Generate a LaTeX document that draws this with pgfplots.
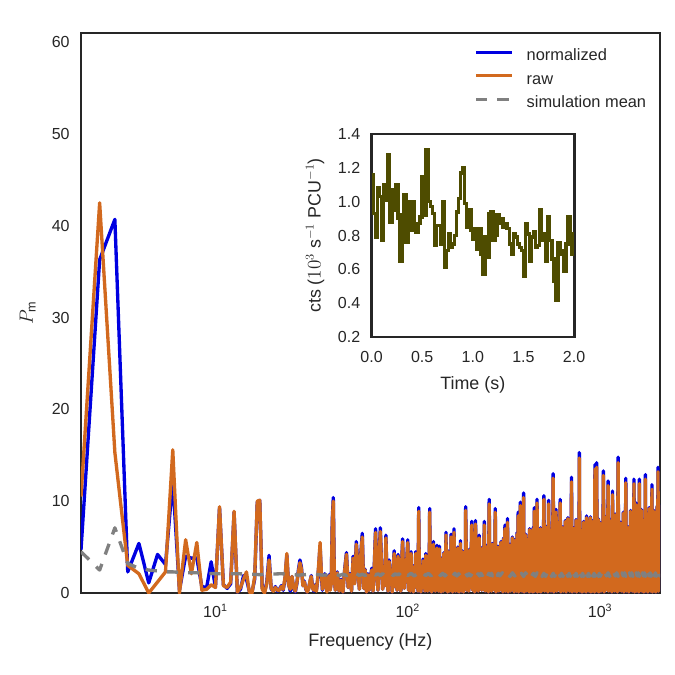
\documentclass[border=0pt]{standalone}
\usepackage{fontspec}
\setmainfont{Liberation Sans}
\usepackage{pgfplots}
\usepackage{pgfplotstable}
\pgfplotsset{compat=1.18}
\definecolor{cblue}{RGB}{0,0,225}
\definecolor{corange}{RGB}{210,105,30}
\definecolor{cgray}{RGB}{128,128,128}
\definecolor{colive}{RGB}{78,76,0}
\definecolor{ctext}{RGB}{38,38,38}

\pgfplotstableread{
f n r
2.0 4.7 10.5
2.5 36.3 42.5
3.0 40.7 15.3
3.5 2.3 3.0
4.0 5.4 2.1
4.5 1.1 0.0
5.0 4.2 1.2
5.5 3.1 2.3
6.0 12.3 15.6
6.5 0.3 0.0
7.0 4.0 5.8
7.5 3.8 2.1
8.0 3.8 5.5
8.5 0.7 0.3
9.0 0.6 0.4
9.5 3.4 0.9
10.0 0.6 0.6
10.5 9.3 9.4
11.0 0.9 0.8
11.5 0.5 0.6
12.0 1.0 1.2
12.5 8.8 8.9
13.0 0.1 0.1
13.5 0.4 0.6
14.0 1.9 1.5
14.5 1.5 2.3
15.0 0.2 0.1
15.5 0.1 0.0
16.0 1.5 1.8
16.5 9.9 10.0
17.0 10.1 10.1
17.5 0.6 0.4
18.0 0.1 0.0
18.5 1.2 1.0
19.0 4.1 3.6
19.5 0.4 0.5
20.0 0.3 0.2
20.5 0.7 0.6
21.0 0.2 0.3
21.5 0.4 0.3
22.0 0.8 0.7
22.5 0.3 0.4
23.0 1.5 1.7
23.5 4.1 4.3
24.0 1.0 0.9
24.5 0.2 0.4
25.0 1.8 1.8
25.5 0.5 0.6
26.0 0.1 0.2
26.5 1.0 1.1
27.0 2.5 2.3
27.5 3.6 3.3
28.0 2.8 2.6
28.5 0.8 0.8
29.0 1.3 1.2
29.5 0.4 0.5
30.0 0.1 0.1
30.5 0.5 0.4
31.0 1.2 1.3
31.5 1.9 1.8
32.0 0.6 0.5
32.5 0.2 0.3
33.0 0.9 0.8
33.5 0.3 0.2
34.0 1.4 1.6
34.5 3.1 3.4
35.0 5.2 5.5
35.5 2.2 2.4
36.0 0.3 0.4
36.5 1.4 1.3
37.0 2.1 1.9
37.5 1.0 0.9
38.0 0.2 0.1
38.5 1.6 1.5
39.0 2.0 1.9
39.5 0.4 0.3
40.0 1.2 1.0
40.5 8.0 7.6
41.0 10.4 10.0
41.5 2.0 1.8
42 0.3 0.3
43 2.3 2.2
44 0.2 0.2
45 1.5 1.4
46 0.1 0.1
47 2.6 2.5
48 4.4 4.2
49 0.6 0.6
50 2.1 2.0
51 0.2 0.2
52 4.0 3.8
53 1.1 1.0
54 5.6 5.3
55 3.2 3.0
56 0.4 0.4
57 4.4 4.2
58 6.5 6.1
59 0.5 0.5
60 2.6 2.5
61 0.1 0.1
62 2.1 2.0
63 0.3 0.3
64 1.8 1.7
65 2.7 2.5
66 0.2 0.2
67 3.1 3.0
68 7.0 6.6
69 2.2 2.1
70 0.3 0.3
71 4.2 4.0
72 7.1 6.7
73 3.3 3.2
74 0.4 0.4
75 3.0 2.9
76 0.8 0.8
77 6.3 6.0
78 1.4 1.3
79 0.2 0.2
80 3.6 3.4
81 0.9 0.9
82 2.3 2.2
83 0.1 0.1
84 2.9 2.8
85 4.6 4.3
86 0.7 0.7
87 3.2 3.1
88 0.3 0.3
89 4.2 4.0
90 1.1 1.1
91 2.5 2.4
92 0.2 0.2
93 3.4 3.3
94 5.9 5.6
95 2.0 1.9
96 0.5 0.5
97 3.7 3.6
98 1.2 1.2
99 4.0 3.9
100 5.8 5.5
101 0.3 0.3
102 2.6 2.5
103 0.2 0.2
104 4.5 4.3
105 0.5 0.5
106 2.2 2.1
107 0.1 0.1
108 3.0 2.9
109 0.6 0.6
110 4.5 4.3
111 0.9 0.9
112 1.9 1.9
113 0.2 0.2
114 9.3 8.9
115 0.4 0.4
116 2.8 2.7
117 0.1 0.1
118 2.6 2.5
119 0.5 0.5
120 3.7 3.5
121 1.0 1.0
122 2.3 2.2
123 0.2 0.2
124 4.3 4.1
125 0.3 0.3
126 2.0 2.0
127 0.2 0.2
128 3.1 3.0
129 0.7 0.7
130 9.2 8.8
131 0.3 0.3
132 2.5 2.4
133 0.1 0.1
134 3.3 3.2
135 0.8 0.8
136 5.6 5.3
137 0.4 0.4
138 2.1 2.0
139 0.2 0.2
140 4.0 3.9
141 0.6 0.6
142 5.2 4.9
143 0.3 0.3
144 2.9 2.8
145 0.2 0.2
146 5.1 4.8
147 0.9 0.9
148 2.4 2.3
149 0.1 0.1
150 3.8 3.7
151 0.5 0.5
152 2.6 2.5
153 0.2 0.2
154 4.4 4.3
155 0.7 0.7
156 2.2 2.1
157 0.3 0.3
158 6.6 6.3
159 0.4 0.4
160 2.2 2.1
161 0.1 0.1
162 4.6 4.5
163 1.1 1.1
164 2.7 2.6
165 0.2 0.2
166 3.9 3.8
167 0.5 0.5
168 6.4 6.1
169 0.3 0.3
170 2.5 2.4
171 0.1 0.1
172 4.8 4.7
173 0.8 0.8
174 7.0 6.6
175 0.4 0.4
176 3.0 2.9
177 0.2 0.2
178 4.2 4.1
179 0.6 0.6
180 2.0 2.0
181 0.2 0.2
182 5.0 4.9
183 0.9 0.9
184 2.6 2.5
185 0.1 0.1
186 4.4 4.3
187 0.5 0.5
188 5.7 5.4
189 0.3 0.3
190 2.8 2.7
191 0.2 0.2
192 4.6 4.5
193 0.8 0.8
194 2.4 2.3
195 0.1 0.1
196 3.9 3.8
197 0.4 0.4
198 2.4 2.4
199 0.6 0.6
200 9.4 9.0
202.5 0.3 0.3
205 2.5 2.5
207.5 0.2 0.2
210 4.8 4.7
212.5 0.6 0.6
215 7.8 7.4
217.5 0.3 0.3
220 2.9 2.8
222.5 0.1 0.1
225 7.9 7.5
227.5 0.5 0.5
230 3.1 3.0
232.5 0.2 0.2
235 6.3 6.0
237.5 0.7 0.7
240 2.6 2.5
242.5 0.3 0.3
245 5.0 4.9
247.5 0.9 0.9
250 7.8 7.4
252.5 0.2 0.2
255 3.3 3.2
257.5 0.4 0.4
260 5.2 5.1
262.5 0.1 0.1
265 10.2 9.7
267.5 0.6 0.6
270 3.2 3.1
272.5 0.2 0.2
275 5.4 5.3
277.5 0.8 0.8
280 3.0 2.9
282.5 0.3 0.3
285 9.2 8.8
287.5 0.1 0.1
290 3.4 3.3
292.5 0.5 0.5
295 5.1 5.0
297.5 0.2 0.2
300 3.5 3.4
302.5 0.7 0.7
305 5.6 5.5
307.5 0.3 0.3
310 3.6 3.5
312.5 0.1 0.1
315 6.0 5.9
317.5 0.9 0.9
320 7.4 7.0
322.5 0.2 0.2
325 3.8 3.7
327.5 0.4 0.4
330 8.1 7.7
332.5 0.1 0.1
335 3.4 3.3
337.5 0.6 0.6
340 5.3 5.2
342.5 0.2 0.2
345 4.0 3.9
347.5 0.5 0.5
350 6.1 6.0
352.5 0.3 0.3
355 3.6 3.5
357.5 0.1 0.1
360 5.8 5.7
362.5 0.8 0.8
365 3.9 3.8
367.5 0.2 0.2
370 6.6 6.4
372.5 0.4 0.4
375 8.8 8.4
377.5 0.1 0.1
380 4.2 4.1
382.5 0.6 0.6
385 9.9 9.5
387.5 0.3 0.3
390 3.7 3.6
392.5 0.2 0.2
395 6.2 6.1
397.5 0.9 0.9
400 10.9 10.4
402.5 0.1 0.1
405 4.1 4.0
407.5 0.5 0.5
410 6.4 6.3
412.5 0.2 0.2
415 4.3 4.2
417.5 0.7 0.7
420 5.9 5.8
422.5 0.3 0.3
425 4.0 3.9
427.5 0.1 0.1
430 7.0 6.9
432.5 0.6 0.6
435 4.4 4.3
437.5 0.2 0.2
440 6.5 6.4
442.5 0.4 0.4
445 4.6 4.5
447.5 0.1 0.1
450 7.2 7.0
452.5 0.8 0.8
455 9.3 8.9
457.5 0.2 0.2
460 4.2 4.1
462.5 0.5 0.5
465 6.8 6.7
467.5 0.3 0.3
470 10.2 9.8
472.5 0.1 0.1
475 4.5 4.4
477.5 0.6 0.6
480 6.4 6.3
482.5 0.2 0.2
485 4.8 4.7
487.5 0.4 0.4
490 7.1 7.0
492.5 0.1 0.1
495 4.3 4.2
497.5 0.7 0.7
500 6.9 6.8
505 0.3 0.3
510 10.6 10.2
515 0.2 0.2
520 4.6 4.5
525 0.5 0.5
530 7.3 7.2
535 0.1 0.1
540 10.1 9.7
545 0.6 0.6
550 4.4 4.3
555 0.2 0.2
560 7.0 6.9
565 0.4 0.4
570 13.0 12.5
575 0.1 0.1
580 4.9 4.8
585 0.7 0.7
590 9.1 8.8
595 0.2 0.2
600 4.7 4.6
605 0.5 0.5
610 7.8 7.7
615 0.3 0.3
620 10.2 9.8
625 0.1 0.1
630 5.0 4.9
635 0.8 0.8
640 7.2 7.1
645 0.2 0.2
650 4.8 4.7
655 0.4 0.4
660 7.9 7.8
665 0.1 0.1
670 5.2 5.1
675 0.6 0.6
680 8.2 8.1
685 0.3 0.3
690 4.9 4.8
695 0.2 0.2
700 7.5 7.4
705 0.5 0.5
710 12.6 12.1
715 0.1 0.1
720 5.3 5.2
725 0.7 0.7
730 7.1 7.0
735 0.2 0.2
740 5.5 5.4
745 0.4 0.4
750 8.0 7.9
755 0.1 0.1
760 5.1 5.0
765 0.6 0.6
770 7.6 7.5
775 0.3 0.3
780 15.3 14.7
785 0.2 0.2
790 5.4 5.3
795 0.8 0.8
800 6.9 6.8
805 0.1 0.1
810 5.2 5.1
815 0.4 0.4
820 7.8 7.7
825 0.2 0.2
830 5.7 5.6
835 0.5 0.5
840 7.3 7.2
845 0.1 0.1
850 8.4 8.2
855 0.6 0.6
860 5.5 5.4
865 0.3 0.3
870 7.9 7.8
875 0.2 0.2
880 5.8 5.7
885 0.7 0.7
890 8.3 8.2
895 0.1 0.1
900 5.4 5.3
905 0.4 0.4
910 7.2 7.1
915 0.2 0.2
920 5.9 5.8
925 0.5 0.5
930 8.0 7.9
935 0.1 0.1
940 14.0 13.5
945 0.6 0.6
950 5.6 5.5
955 0.3 0.3
960 14.2 13.7
965 0.2 0.2
970 6.0 5.9
975 0.8 0.8
980 8.1 8.0
985 0.1 0.1
990 5.7 5.6
995 0.4 0.4
1000 7.7 7.6
1010 0.2 0.2
1020 6.1 6.0
1030 0.5 0.5
1040 13.3 12.8
1050 0.1 0.1
1060 5.8 5.7
1070 0.6 0.6
1080 8.4 8.3
1090 0.3 0.3
1100 12.2 11.7
1110 0.2 0.2
1120 6.2 6.1
1130 0.7 0.7
1140 8.0 7.9
1150 0.1 0.1
1160 11.1 10.7
1170 0.4 0.4
1180 5.9 5.8
1190 0.2 0.2
1200 8.6 8.5
1210 0.5 0.5
1220 6.4 6.3
1230 0.1 0.1
1240 14.8 14.2
1250 0.6 0.6
1260 6.0 5.9
1270 0.3 0.3
1280 7.7 7.6
1290 0.2 0.2
1300 6.5 6.4
1310 0.8 0.8
1320 8.8 8.7
1330 0.1 0.1
1340 6.1 6.0
1350 0.4 0.4
1360 12.5 12.0
1370 0.2 0.2
1380 6.6 6.5
1390 0.5 0.5
1400 7.2 7.1
1410 0.1 0.1
1420 6.8 6.7
1430 0.6 0.6
1440 9.0 8.9
1450 0.3 0.3
1460 6.3 6.2
1470 0.2 0.2
1480 8.3 8.2
1490 0.7 0.7
1500 12.4 11.9
1510 0.1 0.1
1520 6.7 6.6
1530 0.4 0.4
1540 9.8 9.6
1550 0.2 0.2
1560 6.4 6.3
1570 0.5 0.5
1580 8.5 8.4
1590 0.1 0.1
1600 12.4 11.9
1610 0.6 0.6
1620 6.2 6.1
1630 0.3 0.3
1640 9.1 9.0
1650 0.2 0.2
1660 6.9 6.8
1670 0.8 0.8
1680 8.0 7.9
1690 0.1 0.1
1700 6.6 6.5
1710 0.4 0.4
1720 12.9 12.4
1730 0.2 0.2
1740 7.0 6.9
1750 0.5 0.5
1760 8.7 8.6
1770 0.1 0.1
1780 6.5 6.4
1790 0.6 0.6
1800 9.3 9.2
1810 0.3 0.3
1820 7.1 7.0
1830 0.2 0.2
1840 8.4 8.3
1850 0.7 0.7
1860 11.8 11.3
1870 0.1 0.1
1880 6.8 6.7
1890 0.4 0.4
1900 9.0 8.9
1910 0.2 0.2
1920 7.2 7.1
1930 0.5 0.5
1940 8.2 8.1
1950 0.1 0.1
1960 6.9 6.8
1970 0.6 0.6
1980 9.5 9.4
1990 0.3 0.3
2000 13.7 13.2
2010 0.2 0.2
2020 7.0 6.9
2030 0.5 0.5
2040 9.7 9.6
}\spec

\pgfplotstableread{
f s
2.0 4.5
2.5 2.5
3.0 7.1
3.5 3.2
4.0 2.7
4.5 2.5
5.0 2.4
5.5 2.3
6.0 2.3
7.0 2.2
8.0 2.2
10 2.1
13 2.1
17 2.0
22 2.1
27 1.95
32 2.05
36 1.95
40 2.0
42 2.1
44 1.9
46 2.05
48 1.9
50 2.1
52 1.95
54 2.1
56 1.9
58 2.05
60 1.9
62 2.1
64 1.9
66 2.1
68 1.95
70 2.1
72 1.9
74 2.1
76 1.9
78 2.05
80 1.9
82 2.1
84 1.9
86 2.1
88 1.95
90 2.1
92 1.9
94 2.1
96 1.9
98 2.1
100 1.9
104 2.15
108 1.85
112 2.1
116 1.85
120 2.15
124 1.9
128 2.15
132 1.85
136 2.1
140 1.85
144 2.15
148 1.9
152 2.15
156 1.85
160 2.1
164 1.85
168 2.15
172 1.9
176 2.15
180 1.85
184 2.1
188 1.85
192 2.15
196 1.9
200 2.15
204 1.85
208 2.1
212 1.85
216 2.15
220 1.9
224 2.15
228 1.85
232 2.1
236 1.85
240 2.15
244 1.9
248 2.15
252 1.85
256 2.1
260 1.85
264 2.15
268 1.9
272 2.15
276 1.85
280 2.1
284 1.85
288 2.15
292 1.9
296 2.15
300 1.85
310 2.2
320 1.8
330 2.15
340 1.8
350 2.2
360 1.85
370 2.2
380 1.8
390 2.15
400 1.8
410 2.2
420 1.85
430 2.2
440 1.8
450 2.15
460 1.8
470 2.2
480 1.85
490 2.2
500 1.8
510 2.15
520 1.8
530 2.2
540 1.85
550 2.2
560 1.8
570 2.15
580 1.8
590 2.2
600 1.85
610 2.2
620 1.8
630 2.15
640 1.8
650 2.2
660 1.85
670 2.2
680 1.8
690 2.15
700 1.8
710 2.2
720 1.85
730 2.2
740 1.8
750 2.15
760 1.8
770 2.2
780 1.85
790 2.2
800 1.8
810 2.15
820 1.8
830 2.2
840 1.85
850 2.2
860 1.8
870 2.15
880 1.8
890 2.2
900 1.85
910 2.2
920 1.8
930 2.15
940 1.8
950 2.2
960 1.85
970 2.2
980 1.8
990 2.15
1000 1.8
1020 2.2
1040 1.8
1060 2.2
1080 1.85
1100 2.2
1120 1.8
1140 2.15
1160 1.8
1180 2.2
1200 1.85
1220 2.2
1240 1.8
1260 2.15
1280 1.8
1300 2.2
1320 1.85
1340 2.2
1360 1.8
1380 2.15
1400 1.8
1420 2.2
1440 1.85
1460 2.2
1480 1.8
1500 2.15
1520 1.8
1540 2.2
1560 1.85
1580 2.2
1600 1.8
1620 2.15
1640 1.8
1660 2.2
1680 1.85
1700 2.2
1720 1.8
1740 2.15
1760 1.8
1780 2.2
1800 1.85
1820 2.2
1840 1.8
1860 2.15
1880 1.8
1900 2.2
1920 1.85
1940 2.2
1960 1.8
1980 2.15
2000 1.8
2020 2.2
2040 1.85
2048 2.0
}\simmean

\begin{document}
\begin{tikzpicture}
\useasboundingbox (-60.75pt,-61.5pt) rectangle (445.5pt,444.75pt);
\begin{axis}[
  at={(0,0)}, anchor=south west,
  scale only axis, width=434.25pt, height=420pt,
  xmode=log, xmin=2, xmax=2048, ymin=0, ymax=61,
  xtick={10,100,1000},
  xticklabels={10\textsuperscript{1},10\textsuperscript{2},10\textsuperscript{3}},
  ytick={0,10,20,30,40,50,60},
  tick style={draw=none},
  axis line style={line width=2.2pt, draw=ctext},
  /pgf/number format/assume math mode=true,
  tick label style={font=\fontsize{12}{14}\selectfont, text=ctext},
  yticklabel style={xshift=-5pt},
  xticklabel style={yshift=-5pt},
  xlabel={Frequency (Hz)},
  ylabel={$P_{\mathrm{m}}$},
  label style={font=\fontsize{13.5}{16}\selectfont, text=ctext},
  xlabel style={at={(axis description cs:0.5,-0.0874)}, anchor=center},
  ylabel style={at={(axis description cs:-0.092,0.5)}, anchor=center},
  legend style={at={(axis description cs:0.679,0.972)}, anchor=north west,
    draw=none, fill=none, inner sep=0pt, row sep=5.6pt,
    font=\fontsize{12.3}{14}\selectfont, text=ctext,
    nodes={inner sep=0pt, text height=9pt, text depth=3pt}},
  legend cell align=left,
  legend image code/.code={\draw[#1] (0pt,3.5pt) -- (27pt,3.5pt); \path (36.75pt,3.5pt);},
]
\addplot[cblue, line width=2.5pt, line join=round] table[x=f, y=n] {\spec};
\addlegendentry{normalized}
\addplot[corange, line width=2.5pt, line join=round] table[x=f, y=r] {\spec};
\addlegendentry{raw}
\addplot[cgray, line width=2.5pt, dash pattern=on 8.5pt off 7.5pt, line join=round] table[x=f, y=s] {\simmean};
\addlegendentry{simulation mean}
\end{axis}

\begin{axis}[
  at={(217.9pt,192pt)}, anchor=south west,
  scale only axis, width=151.9pt, height=152.25pt,
  xmin=0, xmax=2, ymin=0.2, ymax=1.4,
  xtick={0,0.5,1,1.5,2}, xticklabels={0.0,0.5,1.0,1.5,2.0},
  ytick={0.2,0.4,0.6,0.8,1.0,1.2,1.4}, yticklabels={0.2,0.4,0.6,0.8,1.0,1.2,1.4},
  tick style={draw=none},
  axis line style={line width=2.2pt, draw=ctext},
  axis background/.style={fill=white},
  tick label style={font=\fontsize{12}{14}\selectfont, text=ctext},
  yticklabel style={xshift=-5pt},
  xticklabel style={yshift=-7.5pt},
  xlabel={Time (s)},
  ylabel={cts ($10^3$ s$^{-1}$ PCU$^{-1}$)},
  label style={font=\fontsize{13.4}{16}\selectfont, text=ctext},
  xlabel style={at={(axis description cs:0.5,-0.237)}, anchor=center},
  ylabel style={at={(axis description cs:-0.279,0.5)}, anchor=center},
]
\addplot[const plot, colive, line width=2.6pt] coordinates {
(0.00,1.16) (0.02,0.93) (0.04,0.79) (0.06,1.08) (0.08,1.03) (0.10,0.77)
(0.12,1.10) (0.14,1.01) (0.16,1.28) (0.18,0.88) (0.20,1.07) (0.22,0.95)
(0.24,1.10) (0.26,0.90) (0.28,0.65) (0.30,0.92) (0.32,1.04) (0.34,0.76)
(0.36,1.00) (0.38,0.83) (0.40,1.00) (0.42,0.85) (0.44,0.82) (0.46,0.87)
(0.48,0.91) (0.50,1.15) (0.52,0.92) (0.54,1.305) (0.56,1.00) (0.58,0.97)
(0.60,0.93) (0.62,0.74) (0.64,0.86) (0.66,0.86) (0.68,0.75) (0.70,1.00)
(0.72,0.61) (0.74,0.71) (0.76,0.81) (0.78,0.73) (0.80,0.75) (0.82,0.80)
(0.84,0.94) (0.86,1.02) (0.88,1.17) (0.90,1.20) (0.92,0.99) (0.94,0.85)
(0.96,0.95) (0.98,0.83) (1.00,0.78) (1.02,0.84) (1.04,0.72) (1.06,0.84)
(1.08,0.69) (1.10,0.57) (1.12,0.79) (1.14,0.67) (1.16,0.93) (1.18,0.94)
(1.20,0.77) (1.22,0.80) (1.24,0.92) (1.26,0.87) (1.28,0.90) (1.30,0.85)
(1.32,0.87) (1.34,0.84) (1.36,0.75) (1.38,0.69) (1.40,0.81) (1.42,0.79)
(1.44,0.75) (1.46,0.73) (1.48,0.71) (1.50,0.56) (1.52,0.87) (1.54,0.81)
(1.56,0.65) (1.58,0.79) (1.60,0.82) (1.62,0.73) (1.64,0.74) (1.66,0.95)
(1.68,0.77) (1.70,0.81) (1.72,0.65) (1.74,0.91) (1.76,0.77) (1.78,0.66)
(1.80,0.53) (1.82,0.42) (1.84,0.76) (1.86,0.71) (1.88,0.69) (1.90,0.59)
(1.92,0.75) (1.94,0.91) (1.96,0.81) (1.98,0.69) (2.00,0.69)
};
\end{axis}
\end{tikzpicture}
\end{document}
